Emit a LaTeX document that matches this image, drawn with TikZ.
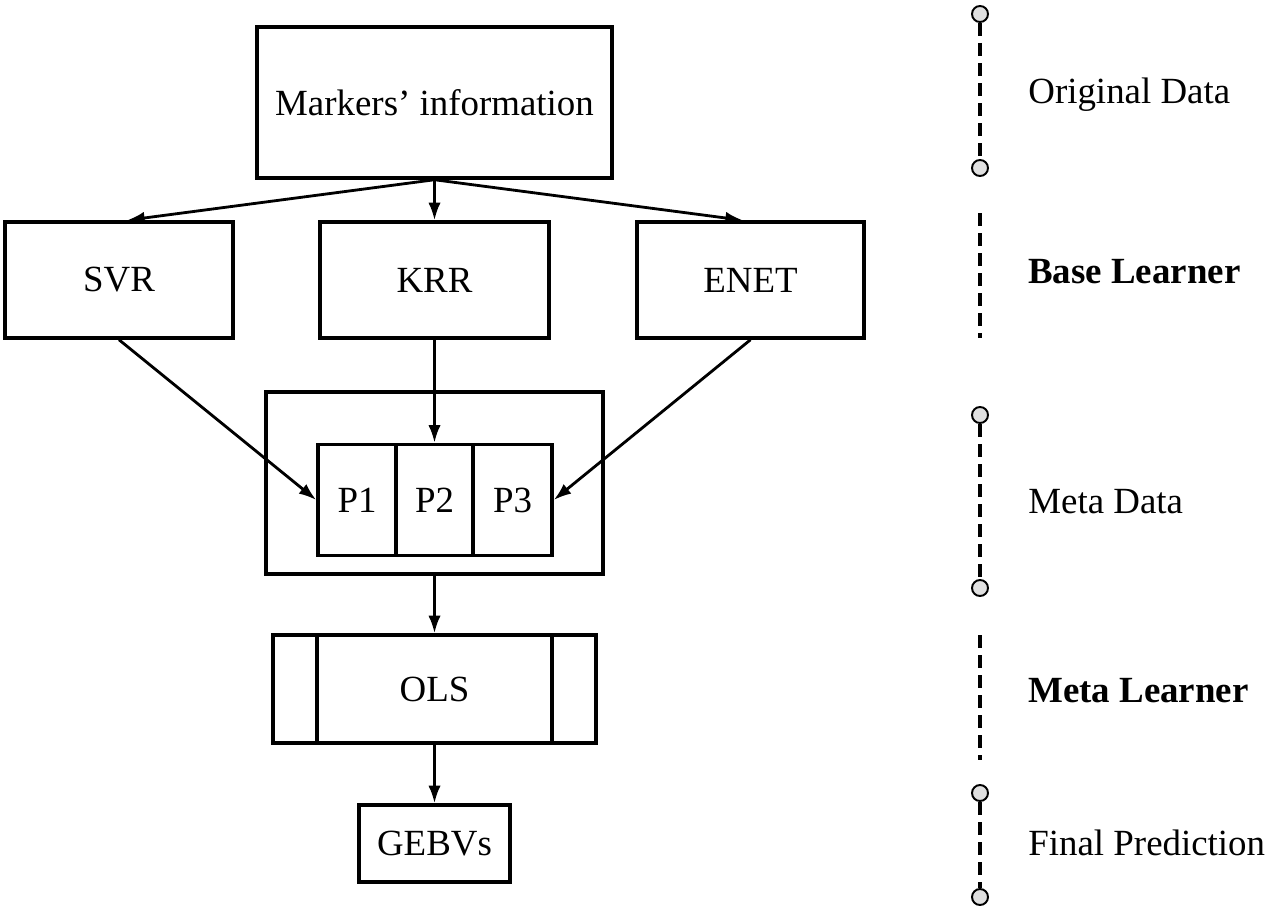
\documentclass[tikz,border=0pt]{standalone}
\usepackage{fontspec}
\setmainfont{Liberation Serif}
\usetikzlibrary{arrows.meta,calc}
\begin{document}
\begin{tikzpicture}[x=0.02cm,y=-0.02cm,
  box/.style={draw,line width=2pt,inner sep=0pt,font=\fontsize{21}{25}\selectfont},
  arr/.style={line width=1.6pt,-{Latex[length=10pt,width=7pt]}},
  dot/.style={circle,draw,line width=1.1pt,fill=black!12,minimum size=0.32cm,inner sep=0pt},
  vdash/.style={line width=2.6pt,dash pattern=on 7.4pt off 4pt},
  lab/.style={anchor=base west,font=\fontsize{21}{25}\selectfont,inner sep=0pt}]
\useasboundingbox (0,0) rectangle (1277,906);
% left diagram
\node[box,minimum width=7.1cm,minimum height=3.02cm] (mk) at (434.5,102.5) {Markers’ information};
\node[box,minimum width=4.56cm,minimum height=2.32cm] (svr) at (119,280) {SVR};
\node[box,minimum width=4.58cm,minimum height=2.32cm] (krr) at (434.5,280) {KRR};
\node[box,minimum width=4.54cm,minimum height=2.32cm] (enet) at (750.5,280) {ENET};
\node[box,minimum width=6.74cm,minimum height=3.64cm] (meta) at (434.5,483) {};
\node[box,minimum width=1.56cm,minimum height=2.22cm] (p1) at (357,500) {P1};
\node[box,minimum width=1.54cm,minimum height=2.22cm] (p2) at (434.5,500) {P2};
\node[box,minimum width=1.58cm,minimum height=2.22cm] (p3) at (512.5,500) {P3};
\node[box,minimum width=6.46cm,minimum height=2.16cm] (ols) at (434.5,689) {OLS};
\draw[line width=2pt] (317,0 |- ols.north) -- (317,0 |- ols.south);
\draw[line width=2pt] (552,0 |- ols.north) -- (552,0 |- ols.south);
\node[box,minimum width=3.02cm,minimum height=1.54cm] (gebv) at (434.5,843.5) {GEBVs};
% connectors
\draw[arr] (mk.south) -- ($(svr.north west)!0.535!(svr.north east)$);
\draw[arr] (mk.south) -- (krr.north);
\draw[arr] (mk.south) -- ($(enet.north west)!0.467!(enet.north east)$);
\draw[arr] (svr.south) -- (p1.west);
\draw[arr] (krr.south) -- (p2.north);
\draw[arr] (enet.south) -- (p3.east);
\draw[arr] (meta.south) -- (ols.north);
\draw[arr] (ols.south) -- (gebv.north);
% right column
\node[dot] (o1) at (980,14) {};
\node[dot] (o2) at (980,168) {};
\draw[vdash] (o1) -- (o2);
\coordinate (b1) at (980,213);
\coordinate (b2) at (980,338);
\draw[vdash] (b1) -- (b2);
\node[dot] (m1) at (980,415) {};
\node[dot] (m2) at (980,588) {};
\draw[vdash] (m1) -- (m2);
\coordinate (l1) at (980,635);
\coordinate (l2) at (980,760);
\draw[vdash] (l1) -- (l2);
\node[dot] (f1) at (980,793) {};
\node[dot] (f2) at (980,897) {};
\draw[vdash] (f1) -- (f2);
% labels
\node[lab] (t1) at (1028,103) {Original Data};
\node[lab] (t2) at (1028,283) {\textbf{Base Learner}};
\node[lab] (t3) at (1028,513) {Meta Data};
\node[lab] (t4) at (1028,702) {\textbf{Meta Learner}};
\node[lab] (t5) at (1028,855) {Final Prediction};
\end{tikzpicture}
\end{document}
